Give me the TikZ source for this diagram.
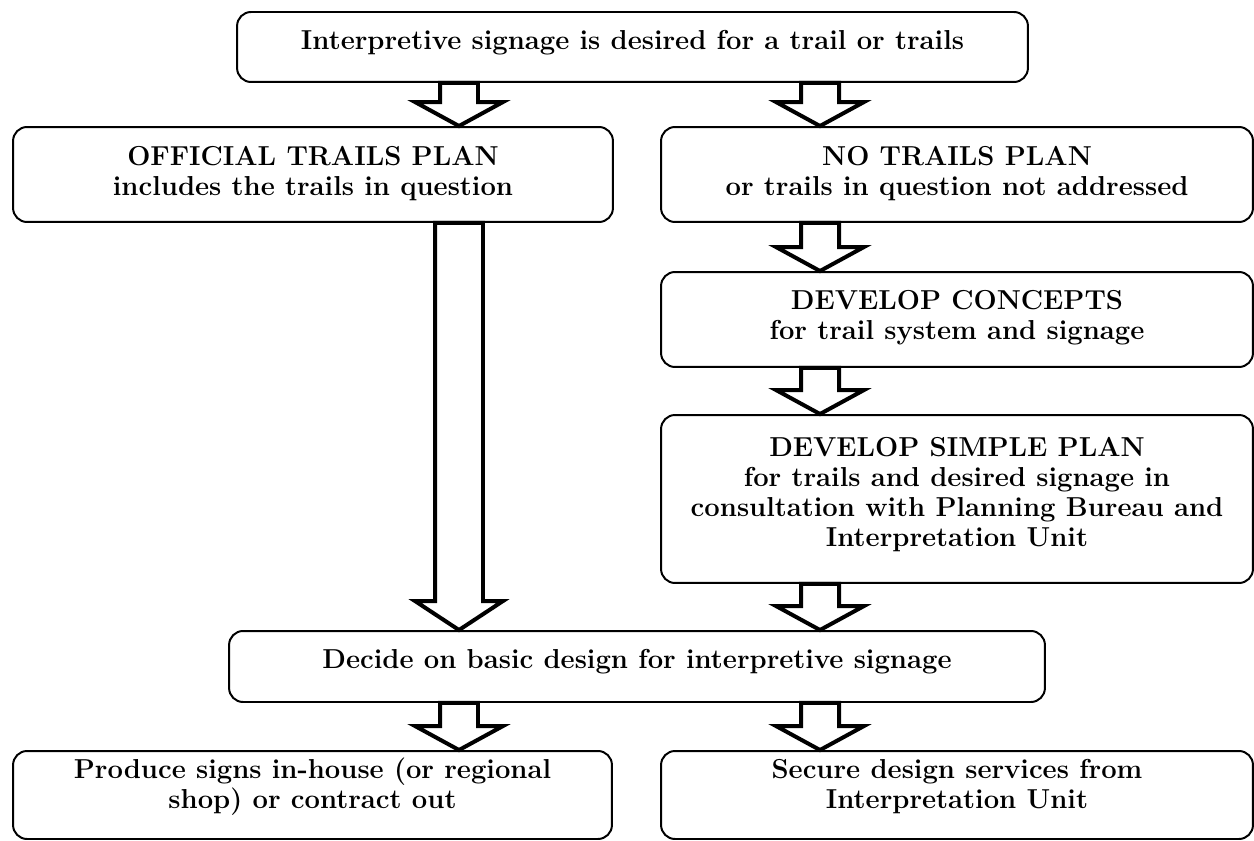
\documentclass[tikz,border=0pt]{standalone}
\usepackage{tikz}
\usetikzlibrary{calc}

\tikzset{
  stepbox/.style={draw, line width=1.13pt, rounded corners=0.28cm, align=center,
    font=\fontsize{15.6}{17}\selectfont\bfseries, inner sep=0pt},
  fatline/.style={draw, line width=2.27pt, line join=miter, fill=white}
}

% extra depth under the last line, lifts the text in its box
\newcommand{\lift}[1]{\rule[-#1]{0pt}{0pt}}

% hollow block arrow: #1 from, #2 to, #3 column, #4 half shaft, #5 head length
\newcommand{\blockarrow}[5]{%
  \draw[fatline] let \p1=(#1.south -| #3), \p2=(#2.north -| #3) in
    ({\x1-#4},\y1) -- ({\x1-#4},{\y2+#5}) -- ({\x1-0.88cm},{\y2+#5}) -- (\x2,\y2)
    -- ({\x1+0.88cm},{\y2+#5}) -- ({\x1+#4},{\y2+#5}) -- ({\x1+#4},\y1) -- cycle;
}

\begin{document}
\begin{tikzpicture}[x=0.02cm, y=-0.02cm]
\useasboundingbox (0,0) rectangle (1254,841);

% columns of the arrows
\coordinate (lcol) at (459,0);
\coordinate (rcol) at (820,0);

% boxes
\node[stepbox, minimum width=15.82cm, minimum height=1.40cm] (desired) at (632.5,47)
  {Interpretive signage is desired for a trail or trails\lift{0.3cm}};
\node[stepbox, minimum width=12cm, minimum height=1.90cm] (official) at (313,174.5)
  {OFFICIAL TRAILS PLAN\\includes the trails in question\lift{0.16cm}};
\node[stepbox, minimum width=11.84cm, minimum height=1.90cm] (noplan) at (957,174.5)
  {NO TRAILS PLAN\\or trails in question not addressed\lift{0.16cm}};
\node[stepbox, minimum width=11.84cm, minimum height=1.90cm] (concepts) at (957,319.5)
  {DEVELOP CONCEPTS\\for trail system and signage\lift{0.2cm}};
\node[stepbox, minimum width=11.84cm, minimum height=3.36cm] (simple) at (957,499)
  {DEVELOP SIMPLE PLAN\\for trails and desired signage in\\consultation with Planning Bureau and\\Interpretation Unit\lift{0.28cm}};
\node[stepbox, minimum width=16.32cm, minimum height=1.42cm] (decide) at (637,666.5)
  {Decide on basic design for interpretive signage\lift{0.32cm}};
\node[stepbox, minimum width=11.98cm, minimum height=1.76cm] (produce) at (312.5,795)
  {Produce signs in-house (or regional\\shop) or contract out\lift{0.46cm}};
\node[stepbox, minimum width=11.84cm, minimum height=1.76cm] (secure) at (957,795)
  {Secure design services from\\Interpretation Unit\lift{0.46cm}};

% arrows
\blockarrow{desired}{official}{lcol}{0.38cm}{0.48cm}
\blockarrow{desired}{noplan}{rcol}{0.38cm}{0.48cm}
\blockarrow{noplan}{concepts}{rcol}{0.38cm}{0.48cm}
\blockarrow{concepts}{simple}{rcol}{0.38cm}{0.48cm}
\blockarrow{simple}{decide}{rcol}{0.38cm}{0.48cm}
\blockarrow{official}{decide}{lcol}{0.48cm}{0.58cm}
\blockarrow{decide}{produce}{lcol}{0.38cm}{0.48cm}
\blockarrow{decide}{secure}{rcol}{0.38cm}{0.48cm}
\end{tikzpicture}
\end{document}
